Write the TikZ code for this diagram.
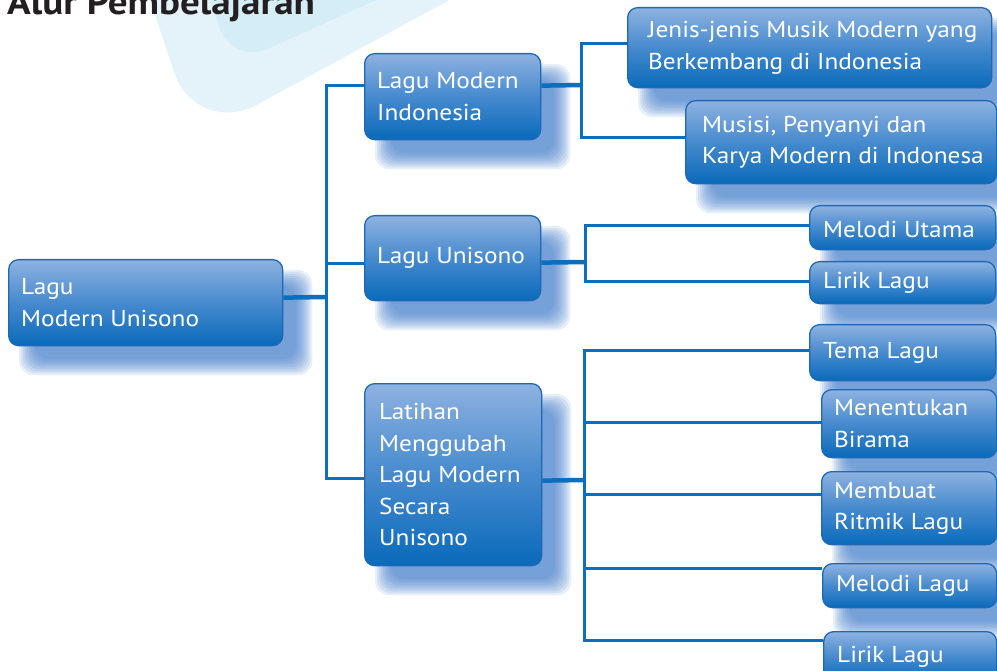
\documentclass[tikz,border=0pt]{standalone}
\usepackage{fontspec}
\setmainfont{PT Sans}[FakeStretch=1.1]
\usetikzlibrary{calc}

\definecolor{bgpale}{RGB}{228,243,249}
\definecolor{bginner}{RGB}{213,237,246}
\definecolor{boxtop}{RGB}{142,178,224}
\definecolor{boxmid}{RGB}{70,138,206}
\definecolor{boxbot}{RGB}{10,106,186}
\definecolor{boxedge}{RGB}{30,104,182}
\definecolor{linecol}{RGB}{12,110,190}
\definecolor{shadowblue}{RGB}{47,111,196}
\definecolor{titlecol}{RGB}{35,31,32}

\pgfdeclarelayer{back}
\pgfdeclarelayer{shadow}
\pgfdeclarelayer{lines}
\pgfsetlayers{back,shadow,lines,main}

% soft blurred drop shadow under a box
\newcommand\softshadow[1]{%
  \foreach \e in {9,7,5,3,1,-1,-3,-5,-7}{%
    \fill[shadowblue, fill opacity=0.115, rounded corners=14pt]
      ($(#1.north west)+(20-\e,20-\e)$) rectangle ($(#1.south east)+(20+\e,20+\e)$);
  }}

\begin{document}
\begin{tikzpicture}[x=1pt,y=-1pt,
  box/.style 2 args={draw=boxedge, line width=1.3pt, rounded corners=10pt,
    top color=boxtop, bottom color=boxbot, middle color=boxmid,
    anchor=north west, inner sep=0pt, minimum width=#1pt, minimum height=#2pt},
  boxtext/.style={text=white, align=left, inner sep=0pt, anchor=west,
    font=\fontsize{23}{31.5}\selectfont},
  link/.style={draw=linecol, line width=3pt},
  stub/.style={draw=linecol, line width=4.5pt},
  title/.style={text=titlecol, inner sep=0pt, font=\fontsize{35.5}{40}\selectfont\bfseries}
]
\useasboundingbox (0,0) rectangle (997,671);
\clip (0,0) rectangle (997,671);

% decorative background tiles
\begin{pgfonlayer}{back}
  \fill[bgpale, rounded corners=70pt] (101,-147) -- (196,138) -- (811,-197) -- (716,-482) -- cycle;
  \fill[bginner, rounded corners=40pt] (136,-220) -- (232,65) -- (687,-140) -- (591,-425) -- cycle;
\end{pgfonlayer}

\node[title, anchor=base west] (title) at (7,15) {Alur Pembelajaran};

% boxes
\node[box={274}{86}] (root) at (8,259) {};
\node[box={176}{86}] (lmi) at (364,53) {};
\node[box={176}{85}] (lu) at (364,215) {};
\node[box={177}{182}] (lat) at (364,383) {};
\node[box={364}{80}] (jenis) at (627,7) {};
\node[box={311}{83}] (musisi) at (685,100) {};
\node[box={186}{44}] (melut) at (809,205) {};
\node[box={186}{42}] (lirika) at (809,261) {};
\node[box={186}{56}] (tema) at (809,324) {};
\node[box={175}{68}] (birama) at (821,389) {};
\node[box={175}{73}] (ritmik) at (821,471) {};
\node[box={174}{44}] (mellagu) at (822,563) {};
\node[box={173}{50}] (lirikb) at (823,631) {};

% box texts
\node[boxtext] (root-t) at ([xshift=13pt]root.west) {Lagu\\Modern Unisono};
\node[boxtext] (lmi-t) at ([xshift=13pt]lmi.west) {Lagu Modern\\Indonesia};
\node[boxtext] (lu-t) at ([xshift=13pt]lu.west) {Lagu Unisono};
\node[boxtext] (lat-t) at ([xshift=15pt]lat.west) {Latihan\\Menggubah\\Lagu Modern\\Secara\\Unisono};
\node[boxtext] (jenis-t) at ([xshift=21pt]jenis.west) {Jenis-jenis Musik Modern yang\\Berkembang di Indonesia};
\node[boxtext] (musisi-t) at ([xshift=17pt]musisi.west) {Musisi, Penyanyi dan\\Karya Modern di Indonesa};
\node[boxtext] (melut-t) at ([xshift=14pt,yshift=-2pt]melut.west) {Melodi Utama};
\node[boxtext] (lirika-t) at ([xshift=14pt]lirika.west) {Lirik Lagu};
\node[boxtext] (tema-t) at ([xshift=14pt]tema.west) {Tema Lagu};
\node[boxtext] (birama-t) at ([xshift=13pt]birama.west) {Menentukan\\Birama};
\node[boxtext] (ritmik-t) at ([xshift=13pt]ritmik.west) {Membuat\\Ritmik Lagu};
\node[boxtext] (mellagu-t) at ([xshift=14pt]mellagu.west) {Melodi Lagu};
\node[boxtext] (lirikb-t) at ([xshift=14pt]lirikb.west) {Lirik Lagu};

% shadows
\begin{pgfonlayer}{shadow}
  \foreach \n in {root,lmi,lu,lat,jenis,musisi,melut,lirika,tema,birama,ritmik,mellagu,lirikb}{\softshadow{\n}}
\end{pgfonlayer}

% connectors
\coordinate (j1) at (326,297);
\coordinate (j2) at (581,85);
\coordinate (j3) at (585,262);
\coordinate (j4) at (584,480);
\begin{pgfonlayer}{lines}
  \draw[stub] ([yshift=5pt]root.east) -- (j1);
  \draw[link] (j1) |- ([yshift=11pt]lmi.west);
  \draw[link] (j1) |- ([yshift=-5.5pt]lu.west);
  \draw[link] (j1) |- ([yshift=-4pt]lat.west);

  \draw[stub] ([yshift=11pt]lmi.east) -- (j2);
  \draw[link] (j2) |- ([yshift=4pt]jenis.west);
  \draw[link] (j2) |- ([yshift=4.5pt]musisi.west);

  \draw[stub] ([yshift=-4.5pt]lu.east) -- (j3);
  \draw[link] (j3) |- ([yshift=2pt]melut.west);
  \draw[link] (j3) |- ([yshift=1pt]lirika.west);

  \draw[stub] ([yshift=-6pt]lat.east) -- (j4);
  \draw[link] (j4) |- ([yshift=2pt]tema.west);
  \draw[link] (j4) |- ([yshift=1pt]birama.west);
  \draw[link] (j4) |- ([yshift=13.5pt]ritmik.west);
  \draw[link] (j4) |- ([yshift=17pt]mellagu.west);
  \draw[link] (j4) |- ([yshift=16pt]lirikb.west);
\end{pgfonlayer}
\end{tikzpicture}
\end{document}
